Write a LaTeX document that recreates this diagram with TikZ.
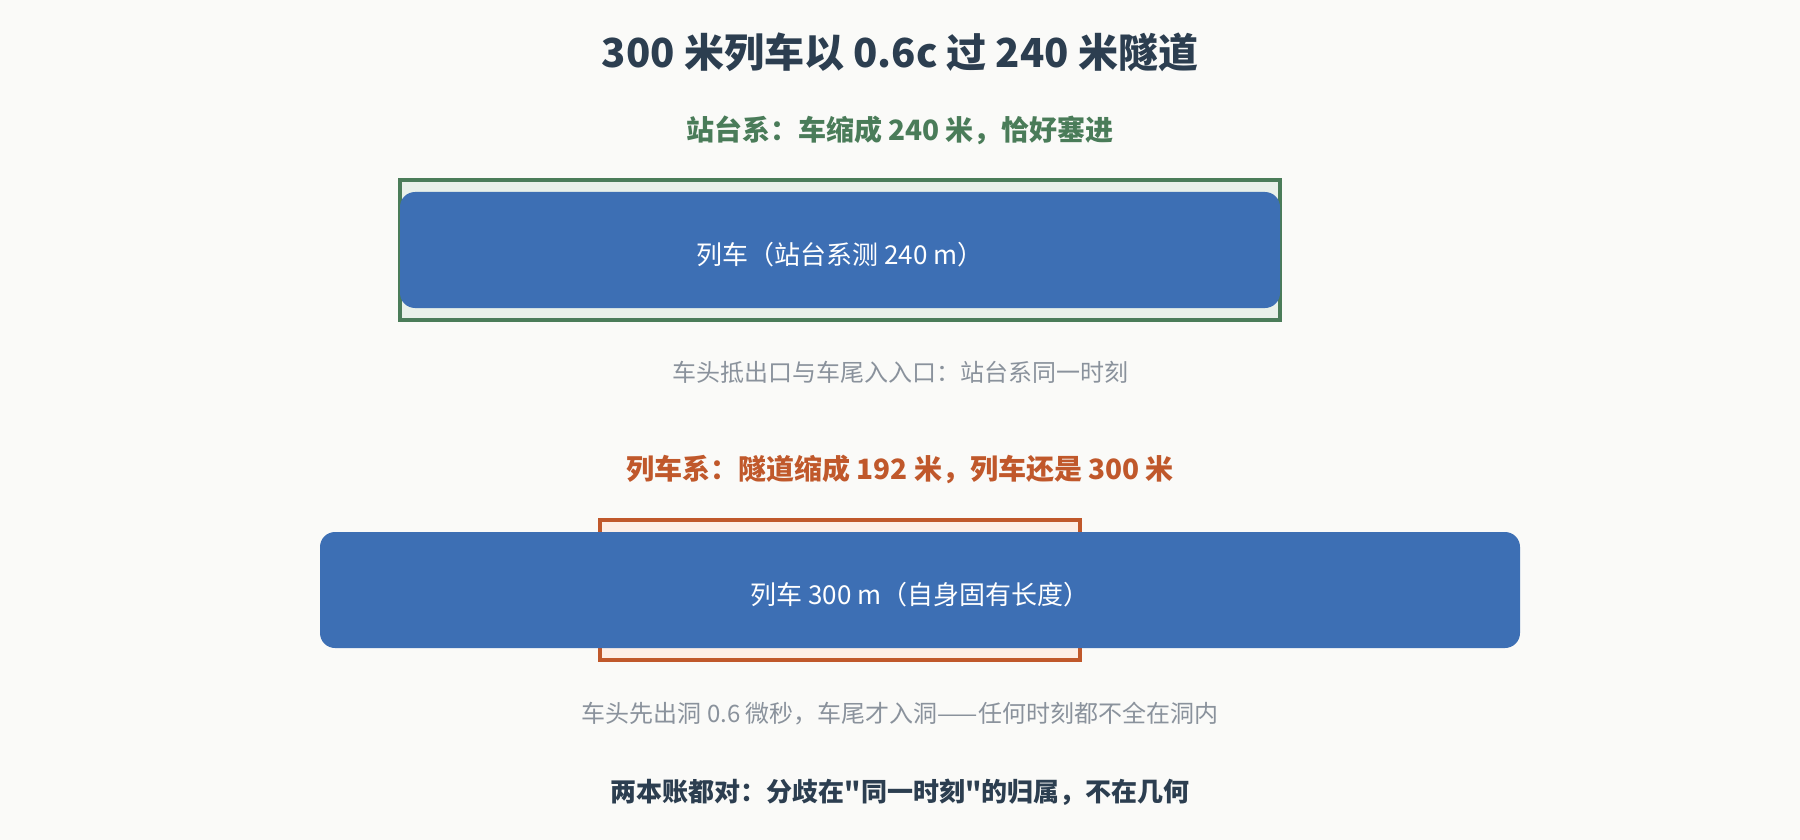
\documentclass[tikz,border=0pt]{standalone}
\usepackage{xcolor}
\usepackage{fontspec}
\setmainfont{Noto Sans CJK SC}[Ligatures=TeXOff]
\definecolor{bgcol}{HTML}{FAFAF8}
\definecolor{titlecol}{HTML}{2C3E50}
\definecolor{stationgreen}{HTML}{4A7C59}
\definecolor{stationfill}{HTML}{E8F0E9}
\definecolor{trainorange}{HTML}{C0582B}
\definecolor{trainfill}{HTML}{FDEEE6}
\definecolor{trainblue}{HTML}{3D6FB4}
\definecolor{notegray}{HTML}{8A929C}

\begin{document}
\begin{tikzpicture}[
		x=1pt,y=-1pt,
		heading/.style={anchor=base,font=\bfseries\fontsize{28}{34}\selectfont},
		note/.style={anchor=base,text=notegray,font=\fontsize{24}{29}\selectfont},
		tunnel/.style={draw,line width=4pt,minimum height=140pt,inner sep=0pt},
		train/.style={fill=trainblue,rounded corners=15pt,minimum height=116pt,inner sep=0pt,text=white,text height=28pt,text depth=0pt,font=\fontsize{26}{31}\selectfont}]
		\useasboundingbox [fill=bgcol] (0,0) rectangle (1800,840);
		\node [anchor=base,text=titlecol,font=\bfseries\fontsize{40}{48}\selectfont](title) at (900,68) {300 米列车以 0.6c 过 240 米隧道};
		\node [heading,text=stationgreen](stationhead) at (900,141) {站台系：车缩成 240 米，恰好塞进};
		\node [tunnel,draw=stationgreen,fill=stationfill,minimum width=880pt](stationtunnel) at (840,250) {};
		\node [train,minimum width=880pt](stationtrain) at (840,250) {列车（站台系测 240 m）};
		\node [note](stationnote) at (900,381) {车头抵出口与车尾入入口：站台系同一时刻};
		\node [heading,text=trainorange](trainhead) at (900,479) {列车系：隧道缩成 192 米，列车还是 300 米};
		\node [tunnel,draw=trainorange,fill=trainfill,minimum width=480pt](traintunnel) at (840,590) {};
		\node [train,minimum width=1200pt](traintrain) at (920,590) {列车 300 m（自身固有长度）};
		\node [note](trainnote) at (900,722) {车头先出洞 0.6 微秒，车尾才入洞——任何时刻都不全在洞内};
		\node [anchor=base,text=titlecol,font=\bfseries\fontsize{26}{31}\selectfont](verdict) at (900,801) {两本账都对：分歧在"同一时刻"的归属，不在几何};
		\end{tikzpicture}
\end{document}
